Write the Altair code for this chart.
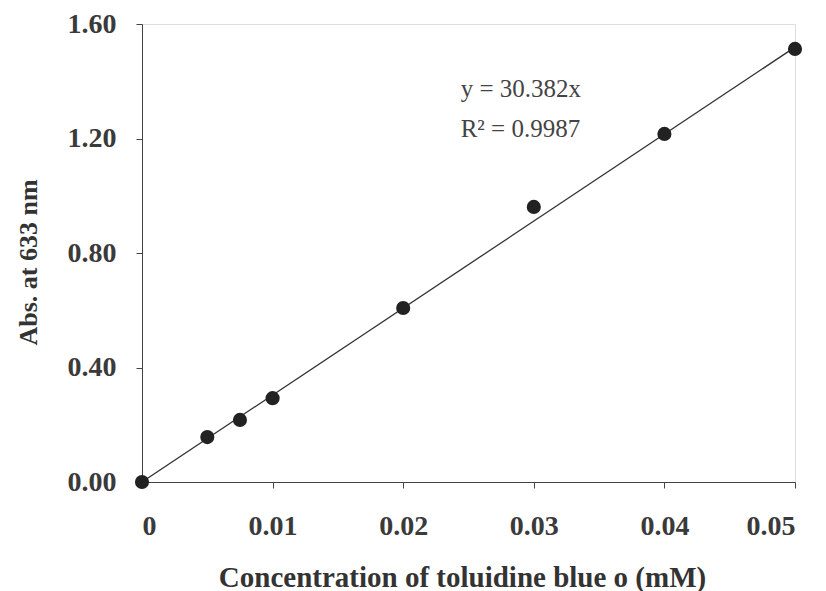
import altair as alt
import pandas as pd

conc = [0.0, 0.005, 0.0075, 0.01, 0.02, 0.03, 0.04, 0.05]
absorb = [0.0, 0.157, 0.217, 0.293, 0.608, 0.961, 1.216, 1.513]
slope = 30.382
fit_x = [0.0, 0.05]
fit_y = [slope * v for v in fit_x]
x_ticks = [0, 0.01, 0.02, 0.03, 0.04, 0.05]
y_ticks = [0.0, 0.4, 0.8, 1.2, 1.6]
eq_lines = ["y = 30.382x", "R² = 0.9987"]
eq_x = [0.0244, 0.0244]
eq_y = [1.345, 1.205]

pts = pd.DataFrame({"x": conc, "y": absorb})
fit = pd.DataFrame({"x": fit_x, "y": fit_y})
eq = pd.DataFrame({"x": eq_x, "y": eq_y, "t": eq_lines})

FONT = "Liberation Serif"

xs = alt.Scale(domain=[0, 0.05], nice=False, zero=False)
ys = alt.Scale(domain=[0, 1.6], nice=False, zero=False)

xaxis = alt.Axis(values=x_ticks, labelExpr="datum.value == 0 ? '0' : format(datum.value, '.2f')",
                 grid=False, domainColor="#444", tickColor="#444", tickSize=6, labelPadding=24,
                 labelFont=FONT, labelFontSize=28, labelFontWeight="bold", labelColor="#3a3a3a",
                 title="Concentration of toluidine blue o (mM)", titleFont=FONT, titleFontSize=29,
                 titleFontWeight="bold", titleColor="#333", titleBaseline="alphabetic", titleY=104,
                 titleX=320)
yaxis = alt.Axis(values=y_ticks, format=".2f", grid=False, domainColor="#444", tickColor="#444",
                 tickSize=6, labelPadding=20, labelFont=FONT, labelFontSize=28, labelFontWeight="bold",
                 labelColor="#3a3a3a", title="Abs. at 633 nm", titleFont=FONT, titleFontSize=26,
                 titleFontWeight="bold", titleColor="#333", titleBaseline="alphabetic",
                 titleX=-106, titleY=238, titleAngle=-90)

line = alt.Chart(fit).mark_line(color="#333", strokeWidth=1.3).encode(
    x=alt.X("x:Q", scale=xs, axis=xaxis), y=alt.Y("y:Q", scale=ys, axis=yaxis))
dots = alt.Chart(pts).mark_point(filled=True, color="#222", size=200, opacity=1).encode(
    x=alt.X("x:Q", scale=xs), y=alt.Y("y:Q", scale=ys))
txt = alt.Chart(eq).mark_text(align="left", baseline="alphabetic", font=FONT, fontSize=25,
                              color="#444").encode(
    x=alt.X("x:Q", scale=xs), y=alt.Y("y:Q", scale=ys), text="t:N")

chart = (line + dots + txt).properties(
    width=653, height=458, autosize="none",
    padding={"left": 142, "top": 24, "right": 31, "bottom": 109}
).configure_view(stroke="#444", strokeWidth=1.3).configure(background="white")

chart.save("out.html", embed_options={"renderer": "svg", "actions": False})
